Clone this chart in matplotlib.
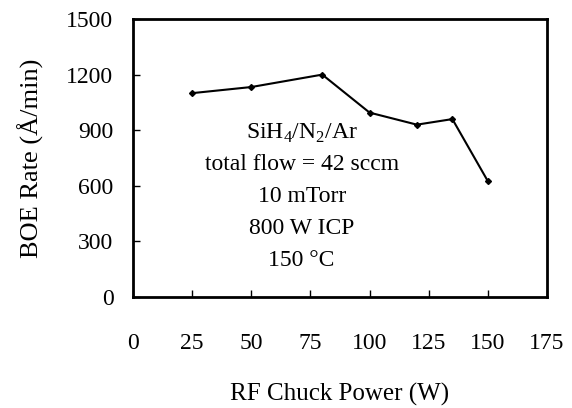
import matplotlib
matplotlib.use("Agg")
import matplotlib.pyplot as plt

power = [25, 50, 80, 100, 120, 135, 150]
rate = [1100, 1133, 1200, 995, 930, 960, 625]
xticks = [0, 25, 50, 75, 100, 125, 150, 175]
yticks = [0, 300, 600, 900, 1200, 1500]

plt.rcParams['font.family'] = ['Liberation Serif', 'DejaVu Serif']
plt.rcParams['mathtext.fontset'] = 'custom'
plt.rcParams['mathtext.rm'] = 'Liberation Serif'

fig = plt.figure(figsize=(5.72, 4.08), dpi=100)
ax = fig.add_axes([0.2325, 0.272, 0.7238, 0.6814])
ax.plot(power, rate, color='black', lw=1.5, marker='D', ms=3)
ax.set_xlim(0, 175)
ax.set_ylim(0, 1500)
ax.set_xticks(xticks)
ax.set_yticks(yticks)
ax.tick_params(direction='in', length=5, width=1, labelsize=17)
ax.tick_params(axis='x', pad=26)
ax.tick_params(axis='y', pad=14)
for s in ax.spines.values():
    s.set_linewidth(2)
ax.set_xlabel('RF Chuck Power (W)', fontsize=18, labelpad=21)
ax.set_ylabel('BOE Rate (Å/min)', fontsize=19, labelpad=16)

notes = ['SiH$_4$/N$_2$/Ar', 'total flow = 42 sccm', '10 mTorr', '800 W ICP', '150 °C']
for i, t in enumerate(notes):
    ax.text(71.3, 885 - i * 172, t, ha='center', va='center', fontsize=17)

fig.savefig('out.png', dpi=100)
